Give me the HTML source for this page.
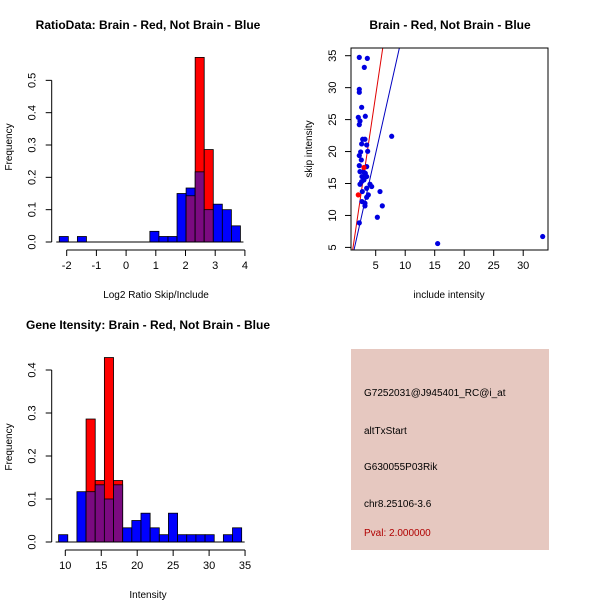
<!DOCTYPE html>
<html><head><meta charset="utf-8"><style>
body{margin:0;background:#fff}
svg text{font-family:"Liberation Sans",Arial,sans-serif;fill:#000}
.t{font-weight:bold;font-size:12px}
.k{font-size:11px}
.l{font-size:10px}
</style></head><body>
<svg id="s" width="600" height="600" xmlns="http://www.w3.org/2000/svg">
<rect width="600" height="600" fill="#fff"/>
<text class="t" x="148" y="29" text-anchor="middle">RatioData: Brain - Red, Not Brain - Blue</text>
<text class="l" x="156" y="298" text-anchor="middle">Log2 Ratio Skip/Include</text>
<text class="l" transform="translate(12,147) rotate(-90)" text-anchor="middle">Frequency</text>
<text class="t" x="450" y="29" text-anchor="middle">Brain - Red, Not Brain - Blue</text>
<text class="l" x="449" y="298" text-anchor="middle">include intensity</text>
<text class="l" transform="translate(312,149) rotate(-90)" text-anchor="middle">skip intensity</text>
<text class="t" x="148" y="329" text-anchor="middle">Gene Itensity: Brain - Red, Not Brain - Blue</text>
<text class="l" x="148" y="598" text-anchor="middle">Intensity</text>
<text class="l" transform="translate(12,447) rotate(-90)" text-anchor="middle">Frequency</text>
<g>
<rect x="351" y="349" width="198" height="201" fill="#e6c8c0"/>
<text class="l" x="364" y="396">G7252031@J945401_RC@i_at</text>
<text class="l" x="364" y="434">altTxStart</text>
<text class="l" x="364" y="470">G630055P03Rik</text>
<text class="l" x="364" y="507">chr8.25106-3.6</text>
<text class="l" x="364" y="536" style="fill:#b00000">Pval: 2.000000</text>
</g>
</svg>
<script>
// Ratio histogram
const ratioStart=-2.25, ratioWidth=0.305;
const ratioBlue=[0.017,0,0.017,0,0,0,0,0,0,0,0.033,0.017,0.017,0.15,0.167,0.217,0.10,0.117,0.10,0.05];
const ratioRed=[0,0,0,0,0,0,0,0,0,0,0,0,0,0,0.143,0.571,0.286,0,0,0];
const ratioXTicks=[-2,-1,0,1,2,3,4];
const ratioYTicks=["0.0","0.1","0.2","0.3","0.4","0.5"];
// Intensity histogram
const intStart=9.07, intWidth=1.273;
const intBlue=[0.017,0,0.117,0.117,0.133,0.10,0.133,0.033,0.05,0.067,0.033,0.017,0.067,0.017,0.017,0.017,0.017,0,0.017,0.033];
const intRed=[0,0,0,0.286,0.143,0.429,0.143,0,0,0,0,0,0,0,0,0,0,0,0,0];
const intXTicks=[10,15,20,25,30,35];
const intYTicks=["0.0","0.1","0.2","0.3","0.4"];
// Scatter
const scBlueX=[2.22,3.58,3.07,2.22,2.22,2.62,2.05,3.24,2.34,2.22,2.79,3.18,2.62,3.47,2.45,2.22,3.64,2.56,2.22,2.34,2.90,3.24,2.67,3.47,3.01,2.34,4.03,4.32,3.47,2.73,3.75,3.47,2.67,3.18,3.18,5.73,6.12,5.28,2.22,7.71,3.47,2.62,15.5,33.3];
const scBlueY=[34.74,34.58,33.17,29.74,29.27,26.92,25.36,25.52,24.78,24.21,21.92,21.92,21.19,21.03,19.94,19.37,20.04,18.69,17.80,16.86,16.86,16.60,16.08,16.08,15.56,14.88,14.88,14.52,14.26,13.74,13.22,12.85,12.17,11.91,11.50,13.74,11.50,9.72,8.84,22.39,17.64,15.30,5.6,6.7];
const scRedX=[2.05,3.01];
const scRedY=[13.22,17.5];
const redLine=[-2.2,6.2], blueLine=[-0.83,4.11];
const scXTicks=[5,10,15,20,25,30];
const scYTicks=[5,10,15,20,25,30,35];

const S=document.getElementById('s'),NS='http://www.w3.org/2000/svg';
function mk(t,a,p){const e=document.createElementNS(NS,t);for(const k in a)e.setAttribute(k,a[k]);(p||S).appendChild(e);return e;}

function hist(o){
  const g=mk('g',{});
  
  
  const X=v=>o.x0+(v-o.xa)*o.xs, Y=v=>o.y0-v*o.ys;
  for(let i=0;i<o.blue.length;i++){
    const l=X(o.start+i*o.w), r=X(o.start+(i+1)*o.w), b=o.blue[i], rd=o.red[i];
    const top=Math.max(b,rd), m=Math.min(b,rd);
    if(top<=0)continue;
    const col=rd>b?'#ff0000':'#0000ff';
    let e=mk('rect',{x:l,y:Y(top),width:r-l,height:Y(0)-Y(top),fill:col,stroke:'#000','stroke-width':0.8},g);
    
    
    if(m>0){
      e=mk('rect',{x:l,y:Y(m),width:r-l,height:Y(0)-Y(m),fill:'#7b0a80',stroke:'#000','stroke-width':0.8},g);
      
      
    }
  }
  const ax=mk('g',{stroke:'#000','stroke-width':1,fill:'none'},g);
  const xt=o.xticks;
  mk('line',{x1:X(xt[0]),x2:X(xt[xt.length-1]),y1:o.xaxisY,y2:o.xaxisY},ax);
  xt.forEach(v=>{mk('line',{x1:X(v),x2:X(v),y1:o.xaxisY,y2:o.xaxisY+6},ax);
    const t=mk('text',{x:X(v),y:o.xaxisY+19,'text-anchor':'middle',class:'k'},g);t.textContent=v;
    
    });
  const yt=o.yticks;
  mk('line',{x1:o.yaxisX,x2:o.yaxisX,y1:Y(0),y2:Y(+yt[yt.length-1])},ax);
  yt.forEach(v=>{const y=Y(+v);mk('line',{x1:o.yaxisX,x2:o.yaxisX-6,y1:y,y2:y},ax);
    const t=mk('text',{transform:`translate(${o.yaxisX-16},${y}) rotate(-90)`,'text-anchor':'middle',class:'k'},g);t.textContent=v;
    
    });
  mk('line',{x1:X(o.start)-3,x2:X(o.start+o.blue.length*o.w)+3,y1:Y(0),y2:Y(0),stroke:'#000'},g);
}
hist({name:'ratio-histogram',blue:ratioBlue,red:ratioRed,start:ratioStart,w:ratioWidth,x0:66.7,xa:-2,xs:29.7,y0:242,ys:323.3,xticks:ratioXTicks,yticks:ratioYTicks,xaxisY:250,yaxisX:51.7});
hist({name:'intensity-histogram',blue:intBlue,red:intRed,start:intStart,w:intWidth,x0:65.3,xa:10,xs:7.19,y0:542,ys:430,xticks:intXTicks,yticks:intYTicks,xaxisY:550,yaxisX:51.7});

// scatter
(function(){
  const L=351,R=548,T=48,B=250;
  const X=v=>375.7+(v-5)*5.9, Y=v=>55.7+(35-v)*6.39;
  const g=mk('g',{});
  
  
  const cp=mk('clipPath',{id:'cp'},g);mk('rect',{x:L,y:T,width:R-L,height:B-T},cp);
  const lg=mk('g',{'clip-path':'url(#cp)'},g);
  [[redLine,'#e00000','red-fit-line'],[blueLine,'#0000c0','blue-fit-line']].forEach(([c,col,n])=>{
    const e=mk('line',{x1:X(0),y1:Y(c[0]),x2:X(12),y2:Y(c[0]+c[1]*12),stroke:col,'stroke-width':1},lg);
    
    
  });
  scBlueX.forEach((x,i)=>{const e=mk('circle',{cx:X(x),cy:Y(scBlueY[i]),r:2.6,fill:'#0000e0'},lg);
    
    });
  scRedX.forEach((x,i)=>{const e=mk('circle',{cx:X(x),cy:Y(scRedY[i]),r:2.6,fill:'#ff0000'},lg);
    
    });
  mk('rect',{x:L,y:T,width:R-L,height:B-T,fill:'none',stroke:'#000'},g);
  scXTicks.forEach(v=>{mk('line',{x1:X(v),x2:X(v),y1:B,y2:B+6,stroke:'#000'},g);
    const t=mk('text',{x:X(v),y:B+19,'text-anchor':'middle',class:'k'},g);t.textContent=v;
    
    });
  scYTicks.forEach(v=>{mk('line',{x1:L,x2:L-6,y1:Y(v),y2:Y(v),stroke:'#000'},g);
    const t=mk('text',{transform:`translate(${L-15},${Y(v)}) rotate(-90)`,'text-anchor':'middle',class:'k'},g);t.textContent=v;
    
    });
})();
</script>
</body></html>
